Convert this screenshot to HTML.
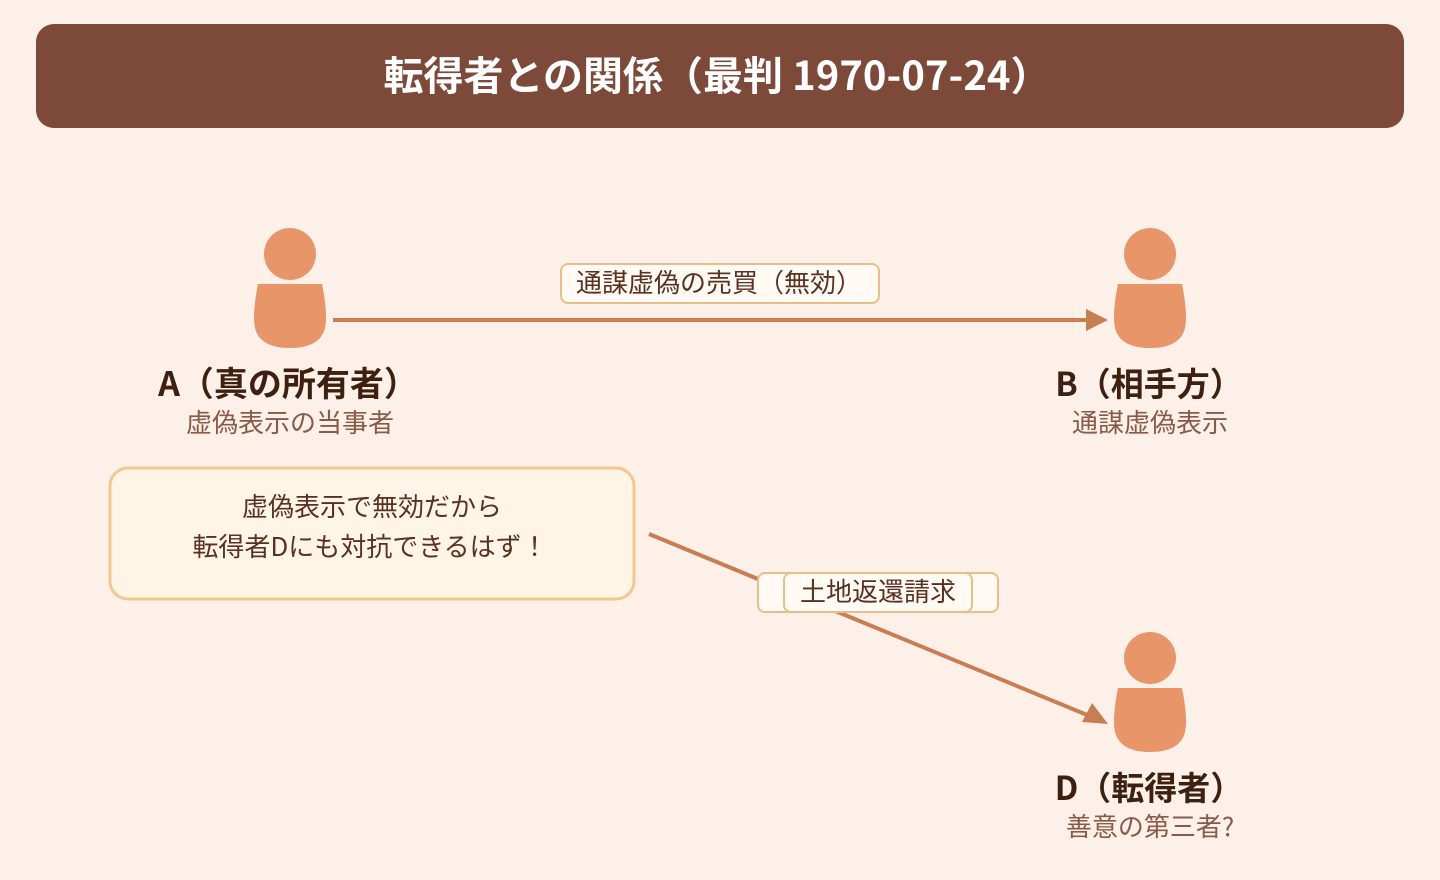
<!DOCTYPE html>
<html><head><meta charset="utf-8"><style>
body{margin:0;background:#fdf0e8;}
svg{display:block}
text{font-family:"Noto Sans CJK JP","Liberation Sans",sans-serif;}
</style></head><body>
<svg width="1440" height="880" viewBox="0 0 1440 880">
<rect width="1440" height="880" fill="#fdf0e8"/>
<rect x="36" y="24" width="1368" height="104" rx="18" fill="#7d4a3a"/>
<text x="717" y="90" text-anchor="middle" font-size="40" font-weight="bold" fill="#fff">転得者との関係（最判 1970-07-24）</text>

<defs>
<g id="p">
<circle cx="0" cy="0" r="26" fill="#e8956a"/>
<path d="M-32 30 L32 30 Q38 60 35 74 Q30 94 0 94 Q-30 94 -35 74 Q-38 60 -32 30 Z" fill="#e8956a"/>
</g>
</defs>
<use href="#p" x="290" y="254"/>
<use href="#p" x="1150" y="254"/>
<use href="#p" x="1150" y="658"/>

<line x1="333" y1="320" x2="1090" y2="320" stroke="#c97d52" stroke-width="4"/>
<polygon points="1108,320 1086,309 1086,331" fill="#c97d52"/>
<rect x="561" y="264" width="318" height="39" rx="7" fill="#fffaf3" stroke="#e8bf8a" stroke-width="2"/>
<text x="719" y="292" text-anchor="middle" font-size="26" fill="#5a3020">通謀虚偽の売買（無効）</text>

<line x1="649" y1="534" x2="1092" y2="717" stroke="#c97d52" stroke-width="4"/>
<polygon points="1108,724 1082,722 1092,703" fill="#c97d52"/>
<rect x="758" y="573" width="240" height="39" rx="7" fill="#fffaf3" stroke="#e8bf8a" stroke-width="2"/>
<rect x="784" y="573" width="188" height="39" rx="7" fill="#fffaf3" stroke="#e8bf8a" stroke-width="2"/>
<text x="878" y="601" text-anchor="middle" font-size="26" fill="#5a3020">土地返還請求</text>

<text x="288" y="396" text-anchor="middle" font-size="34" font-weight="bold" fill="#3d2010">A（真の所有者）</text>
<text x="290" y="432" text-anchor="middle" font-size="26" fill="#8a5a48">虚偽表示の当事者</text>
<text x="1149" y="396" text-anchor="middle" font-size="33" font-weight="bold" fill="#3d2010">B（相手方）</text>
<text x="1150" y="432" text-anchor="middle" font-size="26" fill="#8a5a48">通謀虚偽表示</text>
<text x="1149" y="800" text-anchor="middle" font-size="33" font-weight="bold" fill="#3d2010">D（転得者）</text>
<text x="1150" y="836" text-anchor="middle" font-size="26" fill="#8a5a48">善意の第三者?</text>

<rect x="110" y="468" width="524" height="131" rx="18" fill="#fff5e6" stroke="#f0c890" stroke-width="3"/>
<text x="372" y="516" text-anchor="middle" font-size="26" fill="#5a3020">虚偽表示で無効だから</text>
<text x="370" y="556" text-anchor="middle" font-size="26" fill="#5a3020">転得者Dにも対抗できるはず！</text>
</svg>
</body></html>
